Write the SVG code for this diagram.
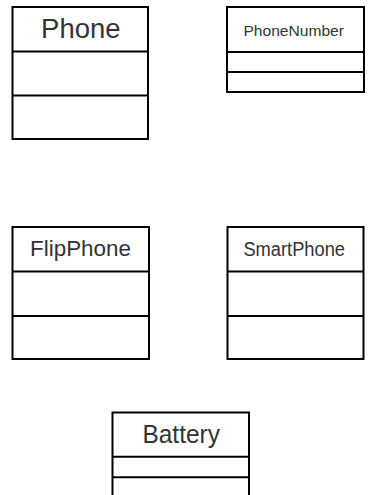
<svg xmlns="http://www.w3.org/2000/svg" width="371" height="495" viewBox="0 0 371 495">
<style>
.box{fill:#fff;stroke:#000;stroke-width:2}
.div{stroke:#000;stroke-width:2}
.t{font-family:"Liberation Sans",Arial,sans-serif;fill:#333;text-anchor:middle}
</style>
<rect width="371" height="495" fill="#fff"/>
<g id="connectors"/>
<g id="Phone">
<rect class="box" x="12.5" y="7" width="135.5" height="132"/>
<line class="div" x1="12.5" y1="51.5" x2="148" y2="51.5"/>
<line class="div" x1="12.5" y1="95.5" x2="148" y2="95.5"/>
<text class="t" x="80.8" y="38.3" font-size="28" textLength="79.5" lengthAdjust="spacingAndGlyphs">Phone</text>
</g>
<g id="PhoneNumber">
<rect class="box" x="227" y="7" width="137" height="85"/>
<line class="div" x1="227" y1="52" x2="364" y2="52"/>
<line class="div" x1="227" y1="72" x2="364" y2="72"/>
<text class="t" x="293.7" y="35.7" font-size="15" textLength="100.5" lengthAdjust="spacingAndGlyphs">PhoneNumber</text>
</g>
<g id="FlipPhone">
<rect class="box" x="12.5" y="227" width="136.5" height="132"/>
<line class="div" x1="12.5" y1="271.5" x2="149" y2="271.5"/>
<line class="div" x1="12.5" y1="316" x2="149" y2="316"/>
<text class="t" x="80.5" y="256" font-size="22.5" textLength="101" lengthAdjust="spacingAndGlyphs">FlipPhone</text>
</g>
<g id="SmartPhone">
<rect class="box" x="227.5" y="227" width="136" height="132"/>
<line class="div" x1="227.5" y1="271.5" x2="363.5" y2="271.5"/>
<line class="div" x1="227.5" y1="316" x2="363.5" y2="316"/>
<text class="t" x="294.2" y="256" font-size="20" textLength="101.5" lengthAdjust="spacingAndGlyphs">SmartPhone</text>
</g>
<g id="Battery">
<rect class="box" x="112.5" y="412.5" width="136.5" height="100"/>
<line class="div" x1="112.5" y1="456.7" x2="249" y2="456.7"/>
<line class="div" x1="112.5" y1="477.3" x2="249" y2="477.3"/>
<text class="t" x="181.2" y="443.3" font-size="26" textLength="77.5" lengthAdjust="spacingAndGlyphs">Battery</text>
</g>
</svg>
